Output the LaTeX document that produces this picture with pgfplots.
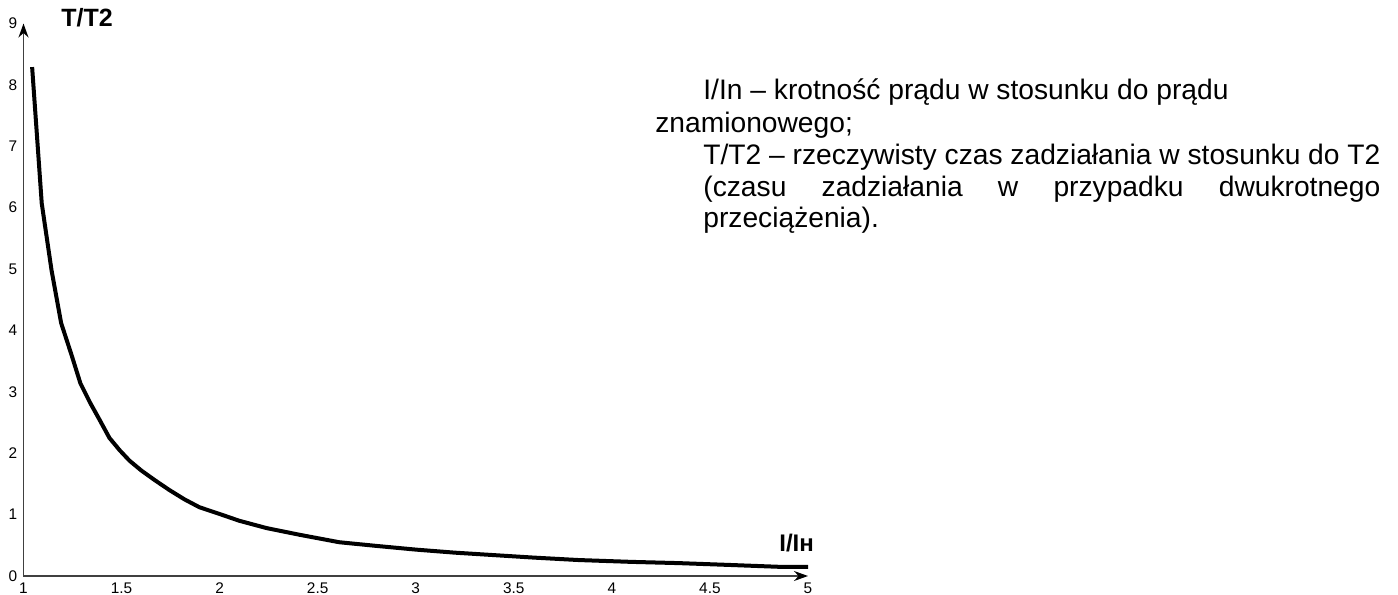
\documentclass[border=0pt]{standalone}
\usepackage{fontspec}
\setmainfont{Liberation Sans}
\usepackage{pgfplots}
\pgfplotsset{compat=1.18}
\usetikzlibrary{arrows.meta}
\begin{document}
\begin{tikzpicture}
\useasboundingbox (-11.75bp,-9.5bp) rectangle (687.25bp,288bp);
\begin{axis}[
  at={(0,0)}, anchor=south west,
  scale only axis, width=392.25bp, height=276.25bp,
  xmin=1, xmax=5, ymin=0, ymax=9,
  axis lines=left,
  axis line style={draw=black!75, line width=0.7bp, -{Stealth[length=7bp,width=5bp,color=black]}},
  xtick={1,1.5,2,2.5,3,3.5,4,4.5,5},
  ytick={0,1,2,3,4,5,6,7,8,9},
  major tick length=0pt,
  /pgf/number format/assume math mode=true,
  tick label style={font=\fontsize{7.7bp}{8.5bp}\selectfont, inner sep=0pt},
  xticklabel style={anchor=north, yshift=-3.3bp},
  yticklabel style={anchor=east, xshift=-3bp},
  clip=false,
]
\addplot[black, line width=2bp] coordinates {
(1.044,8.29) (1.093,6.07) (1.143,4.98) (1.192,4.12) (1.245,3.60) (1.29,3.14)
(1.34,2.82) (1.387,2.55) (1.438,2.25) (1.49,2.05) (1.54,1.88) (1.60,1.72)
(1.67,1.56) (1.744,1.40) (1.82,1.25) (1.897,1.12) (2.0,1.01) (2.10,0.90)
(2.24,0.78) (2.41,0.67) (2.61,0.55) (2.80,0.49) (3.0,0.43) (3.2,0.38)
(3.4,0.34) (3.6,0.30) (3.83,0.26) (4.1,0.23) (4.34,0.21) (4.6,0.18)
(4.85,0.15) (5.0,0.15)
};
\end{axis}
\begin{scope}[x=0.5bp, y=-0.5bp, shift={(-11.75bp,288bp)}]
\node[anchor=base, inner sep=0pt, font=\bfseries\fontsize{12.5bp}{14bp}\selectfont] at (87,26.7) {T/T2};
\node[anchor=base west, inner sep=0pt, font=\bfseries\fontsize{12bp}{14bp}\selectfont] at (779,551.7) {I/Iн};
\begin{scope}[every node/.style={anchor=base west, inner sep=0pt, font=\fontsize{14.1bp}{16bp}\selectfont}]
\node at (703,100) {I/In – krotność prądu w stosunku do prądu};
\node at (655,133) {znamionowego;};
\node at (703,165) {T/T2 – rzeczywisty czas zadziałania w stosunku do T2};
\node at (703,197) {\hbox to 338.5bp{(czasu\hfill zadziałania\hfill w\hfill przypadku\hfill dwukrotnego}};
\node at (703,228) {przeciążenia).};
\end{scope}
\end{scope}
\end{tikzpicture}
\end{document}
